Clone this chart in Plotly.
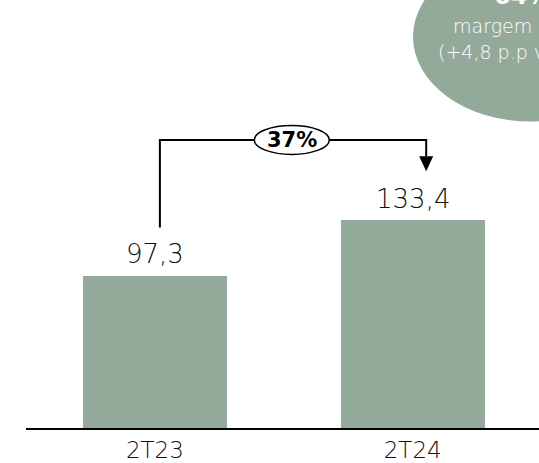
import plotly.graph_objects as go

# Quarterly values
periods = ["2T23", "2T24"]
values = [97.3, 133.4]
value_labels = ["97,3", "133,4"]
growth_label = "37%"
badge_lines = ["64%", "margem", "(+4,8 p.p vs 2T23)"]

BAR_COLOR = "#93a99a"
FONT = "DejaVu Sans"
W, H = 539, 463
ML, MR, MT, MB = 26, 0, 0, 33
PLOT_W, PLOT_H = W - ML - MR, H - MT - MB
Y_MAX = 274
X_RANGE = [-0.5, 1.49]


def px_to_paper_x(px):
    return (px - ML) / PLOT_W


def px_to_paper_y(py):
    return (H - MB - py) / PLOT_H


x_unit = PLOT_W / (X_RANGE[1] - X_RANGE[0])  # pixels per category step
y_unit = PLOT_H / Y_MAX                     # pixels per value unit

xs = list(range(len(periods)))

fig = go.Figure()
fig.add_trace(go.Bar(
    x=xs, y=values, width=0.56,
    marker=dict(color=BAR_COLOR, line=dict(width=0)),
    hoverinfo="skip",
))

annotations = []
# value labels above bars
for x, v, lab, shift in zip(xs, values, value_labels, [22.5, 20.5]):
    annotations.append(dict(
        x=x, y=v, xref="x", yref="y", text=lab, showarrow=False,
        yanchor="middle", yshift=shift,
        font=dict(family=FONT, size=26, color="#111111", weight=300),
    ))

# growth connector: up from first label, across, down to second label
gap = 31
rise = 51
x_left = xs[0] + 5 / x_unit
x_right = xs[1] + 13.5 / x_unit
y_start = values[0] + gap
y_top = values[1] + rise
y_end = values[1] + gap
head_len = 15 / y_unit
head_half = 7 / x_unit

shapes = [
    dict(type="path", xref="x", yref="y",
         path=f"M {x_left},{y_start} L {x_left},{y_top} L {x_right},{y_top} L {x_right},{y_end + head_len}",
         line=dict(color="black", width=2)),
    dict(type="path", xref="x", yref="y",
         path=f"M {x_right - head_half},{y_end + head_len} L {x_right + head_half},{y_end + head_len} L {x_right},{y_end} Z",
         fillcolor="black", line=dict(color="black", width=0)),
]

# oval badge with growth rate
oval_cx = (xs[0] + xs[1]) / 2 + 0.031
oval_hw = 37.5 / x_unit
oval_hh = 14.5 / y_unit
shapes.append(dict(type="circle", xref="x", yref="y",
                   x0=oval_cx - oval_hw, x1=oval_cx + oval_hw,
                   y0=y_top - oval_hh, y1=y_top + oval_hh,
                   fillcolor="white", line=dict(color="black", width=1.5)))
annotations.append(dict(
    x=oval_cx, y=y_top, xref="x", yref="y", text=f"<b>{growth_label}</b>",
    showarrow=False, xanchor="center", yanchor="middle",
    font=dict(family=FONT, size=21, color="black"),
))

# margin badge in the top-right corner
shapes.append(dict(type="circle", xref="paper", yref="paper",
                   x0=px_to_paper_x(413), x1=px_to_paper_x(647),
                   y0=px_to_paper_y(122), y1=px_to_paper_y(-48),
                   fillcolor=BAR_COLOR, line=dict(width=0), layer="below"))
for line, (lx, ly), bold in zip(badge_lines, [(492, -4), (451, 26), (436, 52)], [True, False, False]):
    annotations.append(dict(
        x=px_to_paper_x(lx), y=px_to_paper_y(ly), xref="paper", yref="paper",
        text=f"<b>{line}</b>" if bold else line, showarrow=False,
        xanchor="left", yanchor="middle",
        font=dict(family=FONT, size=24 if bold else 19, color="white",
                  weight=700 if bold else 300),
    ))

fig.update_layout(
    width=W, height=H, autosize=False,
    margin=dict(l=ML, r=MR, t=MT, b=MB, pad=0),
    paper_bgcolor="white", plot_bgcolor="white",
    showlegend=False, bargap=0,
    xaxis=dict(
        range=X_RANGE, tickmode="array", tickvals=xs, ticktext=periods,
        showline=True, linecolor="black", linewidth=2,
        showgrid=False, zeroline=False, ticks="",
        tickfont=dict(family=FONT, size=23, color="#111111", weight=300),
        fixedrange=True,
    ),
    yaxis=dict(range=[0, Y_MAX], visible=False, fixedrange=True),
    shapes=shapes,
    annotations=annotations,
)

fig.write_html("out.html")
